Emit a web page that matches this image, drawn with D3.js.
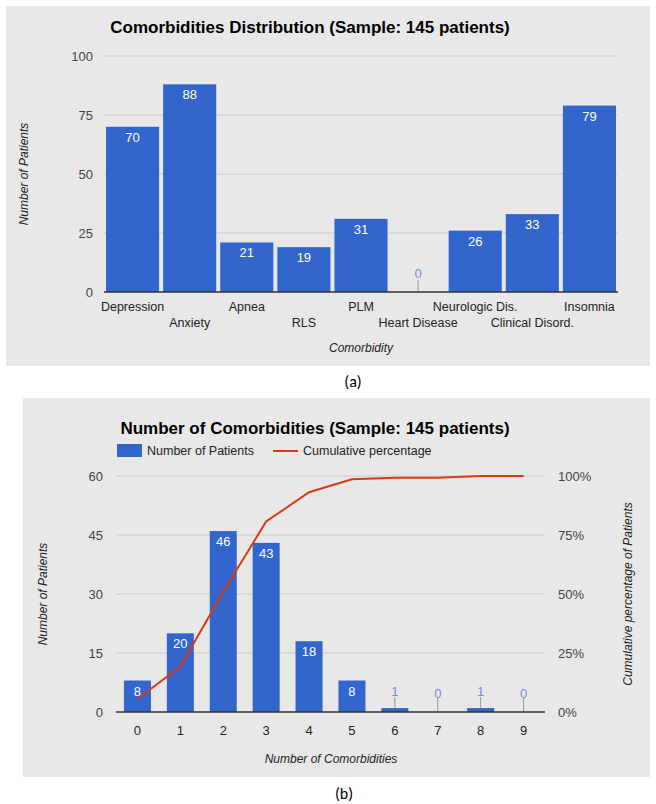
<!DOCTYPE html>
<html>
<head>
<meta charset="utf-8">
<script src="https://cdn.jsdelivr.net/npm/d3@7"></script>
<style>
  html, body { margin: 0; padding: 0; background: #ffffff; }
  svg { display: block; font-family: "Liberation Sans", Arial, sans-serif; }
</style>
</head>
<body>
<svg id="fig" width="656" height="804"></svg>
<script>
// Panel (a): comorbidity counts
const comorbidities = ["Depression", "Anxiety", "Apnea", "RLS", "PLM", "Heart Disease",
                       "Neurologic Dis.", "Clinical Disord.", "Insomnia"];
const comorbidityCounts = [70, 88, 21, 19, 31, 0, 26, 33, 79];
const countTicksA = [0, 25, 50, 75, 100];

// Panel (b): number of comorbidities per patient
const comorbidityNumbers = ["0", "1", "2", "3", "4", "5", "6", "7", "8", "9"];
const patientsPerNumber = [8, 20, 46, 43, 18, 8, 1, 0, 1, 0];
const cumulativePercent = [5.5, 19.3, 51.0, 80.7, 93.1, 98.6, 99.3, 99.3, 100, 100];
const countTicksB = [0, 15, 30, 45, 60];
const percentTicks = [0, 25, 50, 75, 100];

const BLUE = "#3366cc";
const RED = "#dc3912";
const BG = "#e8e8e8";
const GRID = "#cccccc";

const svg = d3.select("#fig");

// ---------- Panel (a) ----------
const pa = svg.append("g");
pa.append("rect").attr("x", 6).attr("y", 6).attr("width", 644).attr("height", 360).attr("fill", BG);

pa.append("text").attr("x", 310).attr("y", 33).attr("text-anchor", "middle")
  .attr("font-size", 17).attr("font-weight", "bold").attr("fill", "#000")
  .text("Comorbidities Distribution (Sample: 145 patients)");

const xA = d3.scaleBand().domain(comorbidities).range([104, 618]).paddingInner(0.07).paddingOuter(0.035);
const yA = d3.scaleLinear().domain([0, 100]).range([292, 56]);

pa.append("g").selectAll("line").data(countTicksA.slice(1)).join("line")
  .attr("x1", 104).attr("x2", 618).attr("y1", d => yA(d)).attr("y2", d => yA(d))
  .attr("stroke", GRID).attr("stroke-width", 1);

const axA = pa.append("g").attr("transform", "translate(93,0)")
  .call(d3.axisLeft(yA).tickValues(countTicksA).tickSize(0).tickPadding(0));
axA.select(".domain").remove();
axA.selectAll("text").attr("font-size", 13).attr("fill", "#444").attr("font-family", "Liberation Sans, Arial, sans-serif");

pa.append("g").selectAll("rect").data(comorbidities).join("rect")
  .attr("x", d => xA(d)).attr("width", xA.bandwidth())
  .attr("y", (d, i) => yA(comorbidityCounts[i]))
  .attr("height", (d, i) => yA(0) - yA(comorbidityCounts[i]))
  .attr("fill", BLUE);

// value labels: inside the bar, or above with a stem for tiny bars
comorbidities.forEach((c, i) => {
  const v = comorbidityCounts[i];
  const cx = xA(c) + xA.bandwidth() / 2;
  if (v >= 5) {
    pa.append("text").attr("x", cx).attr("y", yA(v) + 15).attr("text-anchor", "middle")
      .attr("font-size", 13).attr("fill", "#fff").text(v);
  } else {
    pa.append("line").attr("x1", cx).attr("x2", cx).attr("y1", yA(v) - 12).attr("y2", yA(v))
      .attr("stroke", "#999").attr("stroke-width", 1);
    pa.append("text").attr("x", cx).attr("y", yA(v) - 14).attr("text-anchor", "middle")
      .attr("font-size", 13).attr("fill", "#6f8fdc").text(v);
  }
});

pa.append("line").attr("x1", 104).attr("x2", 618).attr("y1", yA(0)).attr("y2", yA(0))
  .attr("stroke", "#333").attr("stroke-width", 1.5);

// staggered category labels
comorbidities.forEach((c, i) => {
  pa.append("text").attr("x", xA(c) + xA.bandwidth() / 2).attr("y", i % 2 === 0 ? 311 : 327)
    .attr("text-anchor", "middle").attr("font-size", 12.5).attr("fill", "#222").text(c);
});

pa.append("text").attr("x", 361).attr("y", 352).attr("text-anchor", "middle")
  .attr("font-size", 12).attr("font-style", "italic").attr("fill", "#222").text("Comorbidity");
pa.append("text").attr("transform", "translate(28,174) rotate(-90)").attr("text-anchor", "middle")
  .attr("font-size", 12).attr("font-style", "italic").attr("fill", "#222").text("Number of Patients");

svg.append("text").attr("x", 353).attr("y", 387).attr("text-anchor", "middle")
  .attr("font-size", 16).attr("fill", "#000").attr("font-family", "Carlito, 'Liberation Sans', sans-serif").text("(a)");

// ---------- Panel (b) ----------
const pb = svg.append("g");
pb.append("rect").attr("x", 23).attr("y", 398).attr("width", 627).attr("height", 379).attr("fill", BG);

pb.append("text").attr("x", 315).attr("y", 434).attr("text-anchor", "middle")
  .attr("font-size", 17).attr("font-weight", "bold").attr("fill", "#000")
  .text("Number of Comorbidities (Sample: 145 patients)");

// legend
pb.append("rect").attr("x", 117).attr("y", 444).attr("width", 25).attr("height", 13).attr("fill", BLUE);
pb.append("text").attr("x", 147).attr("y", 455).attr("font-size", 12.5).attr("fill", "#222").text("Number of Patients");
pb.append("line").attr("x1", 273).attr("x2", 298).attr("y1", 451).attr("y2", 451).attr("stroke", RED).attr("stroke-width", 2);
pb.append("text").attr("x", 303).attr("y", 455).attr("font-size", 12.5).attr("fill", "#222").text("Cumulative percentage");

const xB = d3.scaleBand().domain(comorbidityNumbers).range([116, 545]).paddingInner(0.37).paddingOuter(0.185);
const yB = d3.scaleLinear().domain([0, 60]).range([712, 476]);
const yP = d3.scaleLinear().domain([0, 100]).range([712, 476]);

pb.append("g").selectAll("line").data(countTicksB.slice(1)).join("line")
  .attr("x1", 116).attr("x2", 545).attr("y1", d => yB(d)).attr("y2", d => yB(d))
  .attr("stroke", GRID).attr("stroke-width", 1);

const axBL = pb.append("g").attr("transform", "translate(103,0)")
  .call(d3.axisLeft(yB).tickValues(countTicksB).tickSize(0).tickPadding(0));
axBL.select(".domain").remove();
axBL.selectAll("text").attr("font-size", 13).attr("fill", "#444").attr("font-family", "Liberation Sans, Arial, sans-serif");

const axBR = pb.append("g").attr("transform", "translate(558,0)")
  .call(d3.axisRight(yP).tickValues(percentTicks).tickFormat(d => d + "%").tickSize(0).tickPadding(0));
axBR.select(".domain").remove();
axBR.selectAll("text").attr("font-size", 13).attr("fill", "#444").attr("font-family", "Liberation Sans, Arial, sans-serif");

pb.append("g").selectAll("rect").data(comorbidityNumbers).join("rect")
  .attr("x", d => xB(d)).attr("width", xB.bandwidth())
  .attr("y", (d, i) => yB(patientsPerNumber[i]))
  .attr("height", (d, i) => yB(0) - yB(patientsPerNumber[i]))
  .attr("fill", BLUE);

comorbidityNumbers.forEach((c, i) => {
  const v = patientsPerNumber[i];
  const cx = xB(c) + xB.bandwidth() / 2;
  if (v >= 5) {
    pb.append("text").attr("x", cx).attr("y", yB(v) + 15).attr("text-anchor", "middle")
      .attr("font-size", 13).attr("fill", "#fff").text(v);
  } else {
    pb.append("line").attr("x1", cx).attr("x2", cx).attr("y1", 697).attr("y2", yB(v))
      .attr("stroke", "#999").attr("stroke-width", 1);
    pb.append("text").attr("x", cx).attr("y", 698 - (v > 0 ? 2 : 0)).attr("text-anchor", "middle")
      .attr("font-size", 13).attr("fill", "#6f8fdc").text(v);
  }
});

pb.append("line").attr("x1", 116).attr("x2", 545).attr("y1", yB(0)).attr("y2", yB(0))
  .attr("stroke", "#333").attr("stroke-width", 1.5);

// cumulative percentage line
const line = d3.line()
  .x((d, i) => xB(comorbidityNumbers[i]) + xB.bandwidth() / 2)
  .y(d => yP(d));
pb.append("path").datum(cumulativePercent).attr("d", line)
  .attr("fill", "none").attr("stroke", RED).attr("stroke-width", 2);

const axBX = pb.append("g").attr("transform", "translate(0,712)")
  .call(d3.axisBottom(xB).tickSize(0).tickPadding(14));
axBX.select(".domain").remove();
axBX.selectAll("text").attr("font-size", 13).attr("fill", "#222").attr("font-family", "Liberation Sans, Arial, sans-serif");

pb.append("text").attr("x", 331).attr("y", 763).attr("text-anchor", "middle")
  .attr("font-size", 12).attr("font-style", "italic").attr("fill", "#222").text("Number of Comorbidities");
pb.append("text").attr("transform", "translate(47,594) rotate(-90)").attr("text-anchor", "middle")
  .attr("font-size", 12).attr("font-style", "italic").attr("fill", "#222").text("Number of Patients");
pb.append("text").attr("transform", "translate(632,594) rotate(-90)").attr("text-anchor", "middle")
  .attr("font-size", 12).attr("font-style", "italic").attr("fill", "#222").text("Cumulative percentage of Patients");

svg.append("text").attr("x", 344).attr("y", 799).attr("text-anchor", "middle")
  .attr("font-size", 16).attr("fill", "#000").attr("font-family", "Carlito, 'Liberation Sans', sans-serif").text("(b)");
</script>
</body>
</html>
